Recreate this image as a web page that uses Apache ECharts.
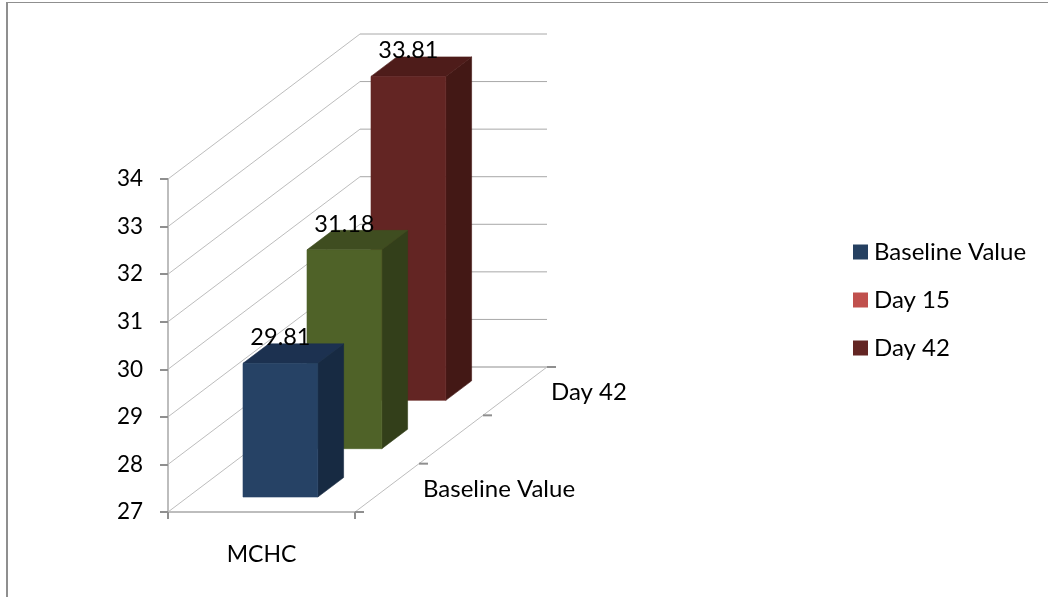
<!DOCTYPE html>
<html>
<head>
<meta charset="utf-8">
<title>MCHC</title>
<style>html,body{margin:0;padding:0;background:#fff}#chart{width:1048px;height:597px}</style>
<script src="https://cdn.jsdelivr.net/npm/echarts@6/dist/echarts.min.js"></script>
</head>
<body>
<div id="chart"></div>
<script>
// Chart content
const categories = ['MCHC'];
const depthCategories = ['Baseline Value', '', 'Day 42'];
const valueTicks = [27, 28, 29, 30, 31, 32, 33, 34];
const baselineValue = [29.81];
const day15 = [31.18];
const day42 = [33.81];

// Oblique projection of the depth axis, in pixels over its full length
const DEPTH_DX = 192;
const DEPTH_DY = -145;
const FONT = 'Lato';
const TEXT_SIZE = 24;
const VALUE_SIZE = 23.5;
const TICK_SIZE = 22.5;
const WALL = '#bdbdbd';
const TICK = '#8f8f8f';
const BAR_SPAN = [0.295, 0.695];      // across the category band
const BAR_DEPTH = [0.31, 0.713];      // within one depth slot

function projector(params, api) {
  const cs = params.coordSys;
  return (xFrac, value, depth) => [
    cs.x + xFrac * cs.width + depth * DEPTH_DX,
    api.coord([0, value])[1] + depth * DEPTH_DY
  ];
}

function line(a, b, stroke) {
  return { type: 'line', shape: { x1: a[0], y1: a[1], x2: b[0], y2: b[1] },
           style: { stroke, lineWidth: 1 } };
}

function poly(points, fill) {
  return { type: 'polygon', shape: { points }, style: { fill, stroke: fill, lineWidth: 0.6 } };
}

// Side wall and back wall gridline for one value tick
function renderWall(params, api) {
  const p = projector(params, api);
  const v = api.value(0);
  return { type: 'group', children: [
    line(p(0, v, 0), p(0, v, 1), WALL),
    line(p(0, v, 1), p(1, v, 1), v === valueTicks[0] ? TICK : '#a8a8a8')
  ] };
}

// Floor edge on the right, with its ticks and category labels
function renderDepthAxis(params, api) {
  const p = projector(params, api);
  const floor = valueTicks[0];
  const n = depthCategories.length;
  const children = [line(p(1, floor, 0), p(1, floor, 1), WALL)];
  for (let i = 0; i <= n; i++) {
    const t = p(1, floor, i / n);
    children.push({ type: 'rect', shape: { x: t[0], y: t[1] - 1, width: 9, height: 2 },
                    style: { fill: TICK } });
  }
  depthCategories.forEach((name, i) => {
    const c = p(1, floor, (i + 0.5) / n);
    children.push({ type: 'text', style: {
      text: name, x: c[0] + 36, y: c[1] + 1, textAlign: 'left', textVerticalAlign: 'middle',
      fill: '#000', fontSize: TEXT_SIZE, fontFamily: FONT } });
  });
  return { type: 'group', children };
}

// One oblique bar: front, top and side faces plus its value label
function barRenderer(slot, faces) {
  return function (params, api) {
    const p = projector(params, api);
    const n = depthCategories.length;
    const d0 = (slot + BAR_DEPTH[0]) / n;
    const d1 = (slot + BAR_DEPTH[1]) / n;
    const floor = valueTicks[0];
    const v = api.value(1);
    const [x0, x1] = BAR_SPAN;
    const mid = p((x0 + x1) / 2, v, d0);
    return { type: 'group', children: [
      poly([p(x1, floor, d0), p(x1, floor, d1), p(x1, v, d1), p(x1, v, d0)], faces.side),
      poly([p(x0, v, d0), p(x1, v, d0), p(x1, v, d1), p(x0, v, d1)], faces.top),
      poly([p(x0, floor, d0), p(x1, floor, d0), p(x1, v, d0), p(x0, v, d0)], faces.front),
      { type: 'text', z2: 10, style: {
        text: v.toFixed(2), x: mid[0], y: mid[1] - 25.5, textAlign: 'center', textVerticalAlign: 'middle',
        fill: '#000', fontSize: VALUE_SIZE, fontFamily: FONT } }
    ] };
  };
}

function barSeries(name, values, slot, legendColor, faces, z) {
  return {
    type: 'custom', name, coordinateSystem: 'cartesian2d', z, clip: false, silent: true,
    itemStyle: { color: legendColor },
    encode: { x: 0, y: 1 },
    data: values.map((v, i) => [i, v]),
    renderItem: barRenderer(slot, faces)
  };
}

const chart = echarts.init(document.getElementById('chart'), null, { renderer: 'canvas' });
chart.setOption({
  animation: false,
  backgroundColor: '#fff',
  textStyle: { fontFamily: FONT },
  grid: { left: 168, top: 179, width: 187, height: 333, containLabel: false },
  xAxis: {
    type: 'category', data: categories,
    axisLine: { show: true, lineStyle: { color: WALL, width: 2 } },
    axisTick: { show: true, length: 7, lineStyle: { color: TICK, width: 2 } },
    axisLabel: { margin: 31, fontSize: 23, color: '#000', fontFamily: FONT },
    splitLine: { show: false }
  },
  yAxis: {
    type: 'value', min: valueTicks[0], max: valueTicks[valueTicks.length - 1], interval: 1,
    axisLine: { show: true, lineStyle: { color: WALL, width: 2 } },
    axisTick: { show: true, length: 8, lineStyle: { color: TICK, width: 2 } },
    axisLabel: { margin: 25, fontSize: TICK_SIZE, color: '#000', fontFamily: FONT, padding: [4, 0, 0, 0] },
    splitLine: { show: false }
  },
  legend: {
    orient: 'vertical', left: 853, top: 240, padding: 0, itemWidth: 15, itemHeight: 15, itemGap: 24,
    icon: 'rect', selectedMode: false,
    data: ['Baseline Value', 'Day 15', 'Day 42'],
    textStyle: { fontSize: TEXT_SIZE, color: '#000', fontFamily: FONT, padding: [0, 0, 0, 1] }
  },
  graphic: [
    { type: 'rect', shape: { x: 6, y: 2, width: 2, height: 595 }, style: { fill: '#8f8f8f' } },
    { type: 'rect', shape: { x: 6, y: 2, width: 1042, height: 1 }, style: { fill: '#8f8f8f' } }
  ],
  series: [
    { type: 'custom', coordinateSystem: 'cartesian2d', z: 1, clip: false, silent: true,
      encode: { y: 0 }, data: valueTicks.map(v => [v]), renderItem: renderWall },
    { type: 'custom', coordinateSystem: 'cartesian2d', z: 1, clip: false, silent: true,
      data: [[0]], renderItem: renderDepthAxis },
    barSeries('Baseline Value', baselineValue, 0, '#254061',
              { front: '#264265', side: '#172a42', top: '#1c3150' }, 6),
    barSeries('Day 15', day15, 1, '#c0504d',
              { front: '#4f6228', side: '#333f1a', top: '#3f4d20' }, 5),
    barSeries('Day 42', day42, 2, '#632523',
              { front: '#632523', side: '#431815', top: '#4e1c1a' }, 4)
  ]
});
</script>
</body>
</html>
